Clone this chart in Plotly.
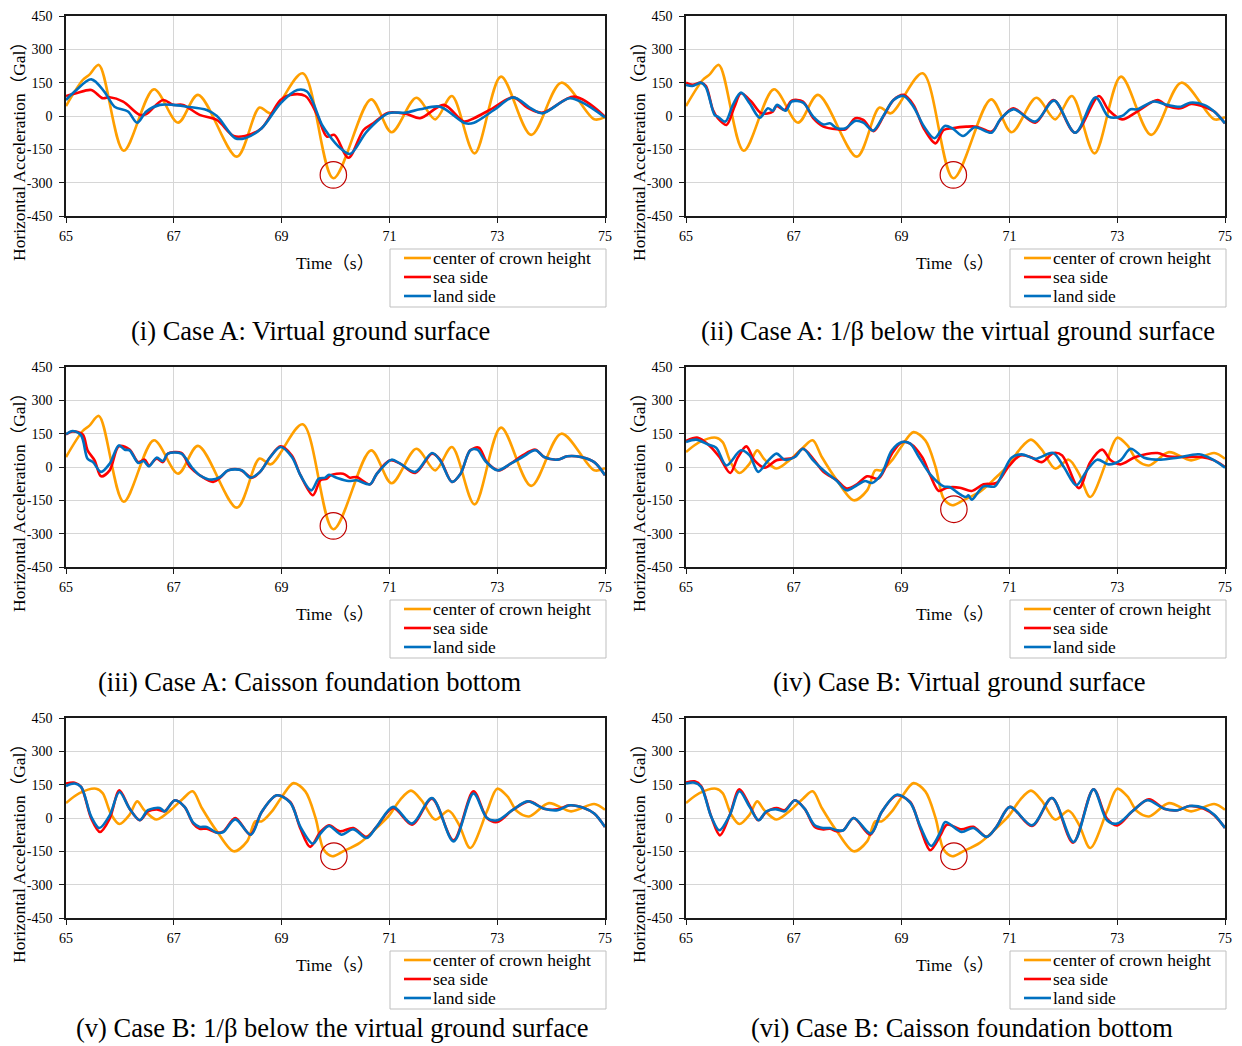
import plotly.graph_objects as go

W, H = 1242, 1046
SERIF = "Times New Roman, Liberation Serif, Noto Sans CJK JP, serif"

# ---------------- time histories: time (s) / acceleration (Gal) ----------------
# Case A, center of crown height (same record in panels i-iii)
t_center_A = [65.00, 65.31, 65.43, 65.61, 66.07, 66.63, 67.08, 67.45, 68.17, 68.59, 68.80,
              69.39, 69.96, 70.66, 71.04, 71.50, 71.85, 72.16, 72.58, 73.07, 73.63, 74.19,
              74.80, 75.00]
acc_center_A = [45, 162, 185, 230, -156, 120, -30, 95, -183, 38, 12,
                192, -280, 75, -73, 82, -15, 90, -168, 177, -85, 150,
                -15, -5]

# Case B, center of crown height (same record in panels iv-vi)
t_center_B = [65.00, 65.25, 65.56, 65.68, 65.84, 65.99, 66.18, 66.32, 66.46, 66.68, 66.93,
              67.17, 67.35, 67.52, 67.80, 68.11, 68.36, 68.51, 68.63, 68.82, 69.01, 69.22,
              69.44, 69.63, 69.78, 69.94, 70.14, 70.45, 70.76, 70.98, 71.20, 71.40, 71.60,
              71.85, 72.10, 72.29, 72.50, 72.81, 73.00, 73.19, 73.37, 73.59, 73.96, 74.37,
              74.80, 75.00]
acc_center_B = [67, 112, 132, 112, 15, -27, 15, 75, 33, -7, 33,
                87, 120, 45, -60, -150, -105, -15, -15, 30, 97, 157,
                120, 0, -142, -172, -150, -112, -45, 7, 82, 123, 78,
                -7, 33, -30, -135, 30, 132, 97, 30, 7, 67, 30,
                63, 37]

# (i) Case A: virtual ground surface
t_sea_1 = [65.00, 65.19, 65.47, 65.68, 65.81, 66.06, 66.37, 66.49, 66.80, 66.99, 67.17,
           67.48, 67.80, 68.11, 68.32, 68.63, 68.98, 69.16, 69.44, 69.66, 69.84, 69.98,
           70.24, 70.52, 70.70, 70.98, 71.32, 71.57, 72.01, 72.38, 72.57, 72.88, 73.30,
           73.56, 73.84, 74.43, 75.00]
acc_sea_1 = [90, 102, 117, 80, 84, 65, 5, 9, 72, 50, 50,
             5, -18, -90, -90, -55, 72, 95, 90, 5, -93, -85,
             -188, -63, -33, 15, 9, -10, 50, -25, -10, 30, 84,
             38, 15, 87, -3]
t_land_1 = [65.00, 65.16, 65.47, 65.71, 65.90, 66.15, 66.32, 66.49, 66.74, 66.99, 67.24,
            67.61, 67.80, 68.14, 68.32, 68.63, 68.98, 69.29, 69.47, 69.75, 69.89, 70.06,
            70.27, 70.58, 70.98, 71.29, 71.57, 71.94, 72.41, 72.57, 72.94, 73.30, 73.62,
            73.84, 74.34, 74.61, 75.00]
acc_land_1 = [72, 110, 165, 110, 42, 20, -30, 20, 50, 50, 42,
              27, 0, -100, -100, -55, 57, 117, 110, -40, -90, -138,
              -171, -70, 12, 15, 30, 42, -33, -30, 27, 84, 35,
              12, 80, 57, -6]

# (ii) Case A: 1/beta below the virtual ground surface
t_sea_2 = [65.00, 65.12, 65.28, 65.37, 65.50, 65.59, 65.75, 65.90, 66.02, 66.21, 66.40,
           66.61, 66.68, 66.83, 66.96, 67.17, 67.36, 67.55, 67.80, 67.96, 68.14, 68.29,
           68.48, 68.66, 68.85, 69.04, 69.22, 69.41, 69.63, 69.78, 69.94, 70.20, 70.39,
           70.67, 70.83, 71.07, 71.48, 71.82, 72.22, 72.66, 72.84, 73.09, 73.37, 73.75,
           73.93, 74.18, 74.37, 74.61, 74.80, 75.00]
acc_sea_2 = [150, 140, 150, 135, 27, -10, -40, 42, 102, 65, 12,
             20, 45, 27, 69, 65, -10, -48, -60, -60, -10, -18,
             -68, -3, 72, 95, 50, -55, -123, -63, -55, -48, -48,
             -70, -18, 35, -30, 72, -75, 90, 27, -15, 20, 72,
             45, 35, 54, 42, 20, -33]
t_land_2 = [65.00, 65.12, 65.28, 65.37, 65.53, 65.59, 65.73, 65.87, 66.02, 66.18, 66.37,
            66.52, 66.61, 66.69, 66.85, 66.96, 67.17, 67.36, 67.55, 67.67, 67.80, 67.96,
            68.14, 68.29, 68.47, 68.66, 68.85, 69.04, 69.22, 69.41, 69.61, 69.80, 69.94,
            70.14, 70.36, 70.67, 70.83, 71.07, 71.48, 71.83, 72.22, 72.60, 72.84, 73.09,
            73.25, 73.37, 73.68, 73.93, 74.18, 74.35, 74.61, 74.80, 75.00]
acc_land_2 = [140, 135, 150, 129, 5, -3, -25, 50, 105, 57, -8,
              35, 24, 50, 24, 65, 60, -3, -38, -33, -55, -55,
              -22, -30, -66, 0, 72, 90, 42, -45, -100, -45, -55,
              -90, -51, -75, -15, 30, -25, 69, -75, 84, -3, 0,
              30, 30, 65, 50, 42, 60, 50, 20, -33]

# (iii) Case A: caisson foundation bottom
t_sea_3 = [65.00, 65.12, 65.31, 65.40, 65.53, 65.65, 65.81, 65.98, 66.18, 66.34, 66.46,
           66.54, 66.68, 66.80, 66.89, 67.14, 67.30, 67.48, 67.73, 67.86, 68.01, 68.23,
           68.45, 68.60, 68.79, 68.98, 69.19, 69.35, 69.58, 69.72, 69.84, 69.91, 70.14,
           70.27, 70.39, 70.64, 70.76, 71.01, 71.20, 71.48, 71.79, 71.94, 72.16, 72.32,
           72.50, 72.66, 72.81, 73.03, 73.25, 73.47, 73.71, 73.87, 74.12, 74.30, 74.55,
           74.80, 75.00]
acc_sea_3 = [147, 160, 147, 75, 30, -42, -15, 93, 78, 22, 33,
             7, 37, 22, 60, 63, 0, -37, -67, -48, -15, -12,
             -48, -22, 45, 93, 52, -37, -127, -60, -52, -37, -30,
             -48, -45, -78, -33, 30, 15, -27, 60, 33, -67, -30,
             75, 87, 22, -15, 15, 52, 78, 45, 33, 48, 45,
             22, -37]
t_land_3 = [65.00, 65.12, 65.28, 65.40, 65.50, 65.65, 65.81, 65.98, 66.09, 66.18, 66.34,
            66.44, 66.54, 66.68, 66.80, 66.89, 67.14, 67.33, 67.48, 67.70, 67.86, 68.01,
            68.26, 68.42, 68.60, 68.79, 68.98, 69.19, 69.35, 69.55, 69.69, 69.81, 69.88,
            70.02, 70.24, 70.39, 70.64, 70.76, 71.04, 71.20, 71.48, 71.79, 71.94, 72.16,
            72.32, 72.50, 72.63, 72.78, 73.00, 73.25, 73.47, 73.71, 73.87, 74.12, 74.30,
            74.55, 74.80, 75.00]
acc_land_3 = [147, 162, 142, 37, 22, -22, 15, 97, 78, 75, 18,
              27, 3, 42, 27, 60, 60, 0, -37, -57, -45, -15,
              -15, -48, -22, 45, 90, 45, -37, -105, -52, -48, -35,
              -48, -63, -60, -78, -33, 33, 15, -22, 63, 30, -67,
              -30, 75, 78, 27, -15, 15, 45, 75, 45, 33, 48,
              45, 22, -37]

# (iv) Case B: virtual ground surface
t_sea_4 = [65.00, 65.22, 65.43, 65.62, 65.82, 65.96, 66.12, 66.27, 66.46, 66.68, 66.99,
           67.17, 67.36, 67.55, 67.80, 67.98, 68.17, 68.36, 68.57, 68.82, 69.01, 69.16,
           69.38, 69.53, 69.69, 69.84, 70.08, 70.30, 70.52, 70.76, 70.98, 71.20, 71.39,
           71.60, 71.82, 71.98, 72.29, 72.50, 72.72, 72.88, 73.06, 73.34, 73.75, 73.93,
           74.24, 74.55, 74.80, 75.00]
acc_sea_4 = [117, 132, 97, 45, -27, 42, 93, 30, -3, 30, 42,
             82, 37, -22, -60, -97, -78, -42, -52, 60, 112, 105,
             45, -37, -108, -93, -93, -108, -78, -72, 0, 52, 45,
             22, 63, 52, -95, 22, 78, 30, 12, 45, 63, 48,
             45, 45, 30, 0]
t_land_4 = [65.00, 65.19, 65.40, 65.56, 65.75, 66.02, 66.18, 66.34, 66.50, 66.68, 66.83,
            67.02, 67.17, 67.36, 67.55, 67.80, 67.98, 68.17, 68.32, 68.45, 68.63, 68.82,
            69.01, 69.16, 69.32, 69.53, 69.78, 69.89, 70.02, 70.11, 70.20, 70.24, 70.30,
            70.52, 70.73, 70.86, 71.04, 71.23, 71.48, 71.81, 72.01, 72.24, 72.44, 72.63,
            72.84, 73.06, 73.25, 73.50, 73.81, 74.12, 74.52, 74.80, 75.00]
acc_land_4 = [112, 123, 102, 87, 7, 75, 52, -22, 22, 60, 33,
              45, 82, 30, -15, -63, -105, -82, -63, -72, -30, 75,
              112, 105, 45, -33, -87, -90, -112, -127, -135, -127, -147,
              -87, -87, -37, 42, 57, 37, 63, 0, -82, -15, 33,
              12, 30, 82, 42, 33, 42, 57, 30, -3]

# (v) Case B: 1/beta below the virtual ground surface
t_sea_5 = [65.00, 65.16, 65.28, 65.47, 65.63, 65.81, 65.99, 66.18, 66.37, 66.52, 66.68,
           66.83, 67.02, 67.20, 67.36, 67.48, 67.61, 67.80, 67.92, 68.14, 68.42, 68.63,
           68.91, 69.16, 69.35, 69.53, 69.72, 69.88, 70.08, 70.33, 70.58, 70.76, 71.07,
           71.42, 71.79, 72.19, 72.56, 72.81, 73.00, 73.28, 73.59, 73.87, 74.12, 74.34,
           74.61, 74.80, 75.00]
acc_sea_5 = [155, 159, 140, -3, -63, -3, 125, 42, -10, 30, 39,
             30, 80, 50, -25, -48, -48, -66, -60, 0, -75, 27,
             102, 72, -48, -130, -63, -33, -60, -45, -85, -40, 45,
             -30, 87, -100, 120, 0, -18, 35, 75, 42, 39, 57,
             45, 20, -40]
t_land_5 = [65.00, 65.16, 65.28, 65.47, 65.62, 65.81, 65.99, 66.18, 66.37, 66.52, 66.74,
            66.83, 67.02, 67.20, 67.36, 67.48, 67.61, 67.80, 67.92, 68.14, 68.43, 68.63,
            68.91, 69.16, 69.35, 69.58, 69.72, 69.88, 70.11, 70.33, 70.58, 70.76, 71.07,
            71.42, 71.79, 72.19, 72.56, 72.81, 73.00, 73.28, 73.56, 73.87, 74.12, 74.34,
            74.61, 74.80, 75.00]
acc_land_5 = [144, 155, 140, 5, -45, 12, 117, 42, -10, 35, 45,
              30, 80, 50, -21, -40, -40, -66, -63, -6, -75, 27,
              102, 69, -40, -115, -70, -36, -75, -51, -90, -40, 50,
              -25, 90, -105, 110, 0, -10, 35, 75, 42, 35, 57,
              45, 20, -40]

# (vi) Case B: caisson foundation bottom
t_sea_6 = [65.00, 65.16, 65.28, 65.47, 65.63, 65.81, 65.99, 66.18, 66.34, 66.49, 66.68,
           66.83, 67.02, 67.20, 67.39, 67.55, 67.67, 67.80, 67.92, 68.11, 68.42, 68.63,
           68.91, 69.16, 69.35, 69.53, 69.72, 69.84, 70.11, 70.33, 70.58, 70.76, 71.01,
           71.42, 71.79, 72.18, 72.56, 72.81, 73.00, 73.28, 73.59, 73.87, 74.12, 74.34,
           74.61, 74.80, 75.00]
acc_sea_6 = [159, 165, 144, 5, -78, 12, 129, 57, -10, 27, 45,
             35, 80, 42, -40, -51, -48, -60, -55, 0, -75, 27,
             102, 72, -48, -145, -78, -30, -51, -40, -85, -40, 50,
             -36, 90, -111, 129, -3, -33, 30, 84, 42, 35, 54,
             42, 12, -45]
t_land_6 = [65.00, 65.16, 65.28, 65.47, 65.62, 65.81, 65.99, 66.18, 66.35, 66.49, 66.68,
            66.83, 67.02, 67.20, 67.39, 67.55, 67.67, 67.80, 67.92, 68.11, 68.43, 68.63,
            68.91, 69.16, 69.35, 69.55, 69.72, 69.81, 70.11, 70.33, 70.58, 70.76, 71.01,
            71.42, 71.79, 72.19, 72.56, 72.81, 73.00, 73.28, 73.56, 73.87, 74.12, 74.34,
            74.61, 74.80, 75.00]
acc_land_6 = [155, 159, 140, 5, -55, 12, 120, 50, -10, 30, 39,
              30, 80, 42, -33, -45, -45, -55, -55, 0, -70, 27,
              105, 69, -40, -126, -63, -18, -63, -45, -85, -40, 50,
              -33, 90, -108, 129, -10, -25, 30, 80, 42, 35, 54,
              45, 15, -45]

# ---------------- labels ----------------
series_names = ["center of crown height", "sea side", "land side"]
series_colors = ["#FF9F00", "#FF0000", "#0070C0"]
x_ticks = [65, 67, 69, 71, 73, 75]
y_ticks = [-450, -300, -150, 0, 150, 300, 450]
y_tick_text = ["-450", "-300", "-150", "0", "150", "300", "450"]
x_title = "Time（s）"
y_title = "Horizontal Acceleration（Gal）"
captions = [
    "(i) Case A: Virtual ground surface",
    "(ii) Case A: 1/β below the virtual ground surface",
    "(iii) Case A: Caisson foundation bottom",
    "(iv) Case B: Virtual ground surface",
    "(v) Case B: 1/β below the virtual ground surface",
    "(vi) Case B: Caisson foundation bottom",
]
# highlighted peak of the crown-height record (time, acceleration) per panel
marker_t = [69.96, 69.96, 69.96, 69.97, 69.97, 69.97]
marker_acc = [-265, -265, -265, -190, -172, -172]

panels = [
    (t_center_A, acc_center_A, t_sea_1, acc_sea_1, t_land_1, acc_land_1),
    (t_center_A, acc_center_A, t_sea_2, acc_sea_2, t_land_2, acc_land_2),
    (t_center_A, acc_center_A, t_sea_3, acc_sea_3, t_land_3, acc_land_3),
    (t_center_B, acc_center_B, t_sea_4, acc_sea_4, t_land_4, acc_land_4),
    (t_center_B, acc_center_B, t_sea_5, acc_sea_5, t_land_5, acc_land_5),
    (t_center_B, acc_center_B, t_sea_6, acc_sea_6, t_land_6, acc_land_6),
]

# ---------------- layout geometry (pixels) ----------------
COL_LEFT = [66, 686]
ROW_TOP = [16, 367, 718]
PLOT_W, PLOT_H = 539, 200
CAPTION_CX = [310, 958, 310, 959, 332, 962]
LINE_W = 2.6


def fx(p):
    return p / W


def fy(p):
    return 1 - p / H


fig = go.Figure()
layout = {}
shapes = []
annotations = []

for i, (tc, ac, ts, as_, tl, al) in enumerate(panels):
    r, c = divmod(i, 2)
    n = i + 1
    sfx = "" if n == 1 else str(n)
    xa, ya = "x" + sfx, "y" + sfx
    left, top = COL_LEFT[c], ROW_TOP[r]

    for name, tt, vv, col in zip(series_names, [tc, ts, tl], [ac, as_, al], series_colors):
        fig.add_trace(go.Scatter(
            x=tt, y=vv, mode="lines", name=name, showlegend=False,
            line=dict(color=col, width=LINE_W, shape="spline", smoothing=0.9),
            xaxis=xa, yaxis=ya, hoverinfo="skip",
        ))

    axis_common = dict(
        showgrid=True, gridcolor="#D6D6D6", gridwidth=1.4, zeroline=False,
        showline=True, linecolor="#1A1A1A", linewidth=1.6, mirror=True,
        ticks="outside", ticklen=5, tickcolor="#1A1A1A", tickwidth=1.3,
        tickfont=dict(family=SERIF, size=14, color="#000"),
        fixedrange=True,
    )
    layout["xaxis" + sfx] = dict(
        domain=[fx(left), fx(left + PLOT_W)], anchor=ya, range=[65, 75],
        tickmode="array", tickvals=x_ticks, ticktext=[str(v) for v in x_ticks],
        ticklabelstandoff=1, **axis_common,
    )
    layout["yaxis" + sfx] = dict(
        domain=[fy(top + PLOT_H), fy(top)], anchor=xa, range=[-450, 450],
        tickmode="array", tickvals=y_ticks, ticktext=y_tick_text,
        ticklabelstandoff=4, **axis_common,
    )

    # highlighted peak
    shapes.append(dict(
        type="circle", xref=xa, yref=ya,
        x0=marker_t[i] - 0.245, x1=marker_t[i] + 0.245,
        y0=marker_acc[i] - 60, y1=marker_acc[i] + 60,
        line=dict(color="#C00000", width=1.2), layer="above",
    ))

    # legend box with line samples and entry labels
    shapes.append(dict(
        type="rect", xref="paper", yref="paper",
        x0=fx(left + 324), x1=fx(left + 540), y0=fy(top + 291), y1=fy(top + 233),
        line=dict(color="#BFBFBF", width=1), fillcolor="#FFFFFF", layer="above",
    ))
    for k, (name, col) in enumerate(zip(series_names, series_colors)):
        yk = top + 242 + 19 * k
        shapes.append(dict(
            type="line", xref="paper", yref="paper",
            x0=fx(left + 338), x1=fx(left + 365), y0=fy(yk), y1=fy(yk),
            line=dict(color=col, width=LINE_W), layer="above",
        ))
        annotations.append(dict(
            text=name, xref="paper", yref="paper",
            x=fx(left + 365), y=fy(yk), xanchor="left", yanchor="middle",
            showarrow=False, font=dict(family=SERIF, size=17.5, color="#000"),
        ))

    annotations.append(dict(
        text=x_title, xref="paper", yref="paper",
        x=fx(left + 269), y=fy(top + 247), xanchor="center", yanchor="middle",
        showarrow=False, font=dict(family=SERIF, size=17.5, color="#000"),
    ))
    annotations.append(dict(
        text=y_title, xref="paper", yref="paper", textangle=-90,
        x=fx(left - 47), y=fy(top + 131), xanchor="center", yanchor="middle",
        showarrow=False, font=dict(family=SERIF, size=17.5, color="#000"),
    ))
    if r < 2:
        cap_pos = dict(y=fy(top + 315), yanchor="middle")
    else:
        # bottom row: keep the caption box inside the page
        cap_pos = dict(y=fy(H - 1), yanchor="bottom")
    annotations.append(dict(
        text=captions[i], xref="paper", yref="paper",
        x=fx(CAPTION_CX[i]), xanchor="center", **cap_pos,
        showarrow=False, font=dict(family=SERIF, size=26.5, color="#000"),
    ))

fig.update_layout(
    width=W, height=H,
    margin=dict(l=0, r=0, t=0, b=0, pad=0, autoexpand=False),
    paper_bgcolor="#FFFFFF", plot_bgcolor="#FFFFFF",
    showlegend=False, shapes=shapes, annotations=annotations,
    **layout,
)

fig.write_html("out.html", include_plotlyjs=True, config={"displayModeBar": False})
